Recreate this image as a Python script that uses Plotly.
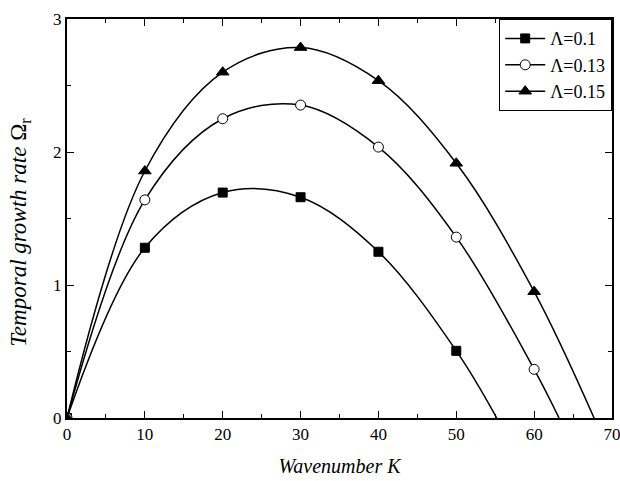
import plotly.graph_objects as go

# Data
k_01 = [0, 10, 20, 30, 40, 50, 55.2]
w_01 = [0, 1.28, 1.695, 1.66, 1.25, 0.505, 0.0]
k_013 = [0, 10, 20, 30, 40, 50, 60, 63.2]
w_013 = [0, 1.64, 2.25, 2.353, 2.037, 1.36, 0.366, 0.0]
k_015 = [0, 10, 20, 30, 40, 50, 60, 67.7]
w_015 = [0, 1.857, 2.60, 2.785, 2.536, 1.915, 0.95, 0.0]

names = ["Λ=0.1", "Λ=0.13", "Λ=0.15"]
x_ticks = [0, 10, 20, 30, 40, 50, 60, 70]
y_ticks = [0, 1, 2, 3]

FONT = "Liberation Serif, Times New Roman, serif"

series = [
    (k_01, w_01, names[0], "square", "black", 9),
    (k_013, w_013, names[1], "circle", "white", 10),
    (k_015, w_015, names[2], "triangle-up", "black", 11),
]

fig = go.Figure()
for xs, ys, name, sym, fillc, size in series:
    n = len(xs)
    fills = [fillc] * (n - 1) + ["rgba(0,0,0,0)"]
    lines = ["black"] * (n - 1) + ["rgba(0,0,0,0)"]
    fig.add_trace(go.Scatter(
        x=xs, y=ys, name=name, mode="lines+markers",
        line=dict(color="black", width=1.5, shape="spline", smoothing=1.0),
        marker=dict(symbol=sym, size=size, color=fills,
                    line=dict(color=lines, width=1)),
        cliponaxis=True,
    ))

axis_common = dict(
    showline=True, linecolor="black", linewidth=2, mirror="ticks",
    ticks="inside", ticklen=7, tickwidth=1.2, tickcolor="black",
    showgrid=False, zeroline=False, automargin=False,
    ticklabeloverflow="allow",
    tickfont=dict(family=FONT, size=17, color="black"),
)

fig.update_xaxes(
    range=[0, 70], tickvals=x_ticks, ticktext=[str(v) for v in x_ticks],
    minor=dict(ticks="inside", ticklen=4, tickwidth=1.2, tickcolor="black", dtick=5, showgrid=False),
    title=dict(text="<i>Wavenumber K</i>", font=dict(family=FONT, size=20, color="black"), standoff=16),
    **axis_common,
)
fig.update_yaxes(
    range=[0, 3], tickvals=y_ticks, ticktext=[str(v) for v in y_ticks],
    minor=dict(ticks="inside", ticklen=4, tickwidth=1.2, tickcolor="black", dtick=0.5, showgrid=False),
    **axis_common,
)

fig.add_annotation(
    text="<i>Temporal growth rate</i> Ω<sub>r</sub>",
    xref="paper", yref="paper", x=-0.0856, y=0.465,
    xanchor="center", yanchor="middle", textangle=-90, showarrow=False,
    font=dict(family=FONT, size=23, color="black"),
)

fig.update_layout(
    width=620, height=481,
    margin=dict(l=67, r=8, t=19, b=63),
    paper_bgcolor="white", plot_bgcolor="white",
    font=dict(family=FONT, color="black"),
    legend=dict(
        x=1.0, y=1.0, xanchor="right", yanchor="top",
        bgcolor="white", bordercolor="black", borderwidth=1.2,
        font=dict(family=FONT, size=18, color="black"),
        tracegroupgap=0, itemwidth=40,
    ),
    showlegend=True,
)

fig.write_html("out.html")
